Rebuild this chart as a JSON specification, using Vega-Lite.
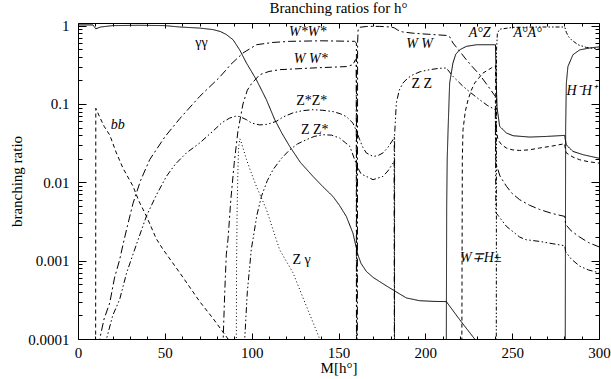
{
  "$schema": "https://vega.github.io/schema/vega-lite/v6.json",
  "width": 521,
  "height": 316,
  "autosize": {"type": "none"},
  "padding": {"left": 78, "top": 23, "right": 12, "bottom": 40},
  "background": "white",
  "config": {"view": {"stroke": null}, "font": "Liberation Serif", "axis": {"grid": false, "domainColor": "black", "tickColor": "black", "tickWidth": 1, "domainWidth": 1}},
  "title": {"text": "Branching ratios for h°", "font": "Liberation Serif", "fontSize": 15, "fontWeight": "normal", "color": "black", "offset": 3},
  "datasets": {
    "curves": [
      {"s":"gg","x":0,"y":1.02},{"s":"gg","x":8.6,"y":1.02},{"s":"gg","x":10.2,"y":0.91},{"s":"gg","x":13,"y":0.96},{"s":"gg","x":20,"y":1.0},{"s":"gg","x":35,"y":1.01},{"s":"gg","x":50,"y":1.0},{"s":"gg","x":58.6,"y":0.96},{"s":"gg","x":70,"y":0.93},{"s":"gg","x":77.7,"y":0.89},{"s":"gg","x":82,"y":0.84},{"s":"gg","x":85.4,"y":0.77},{"s":"gg","x":89.3,"y":0.66},{"s":"gg","x":93.1,"y":0.49},{"s":"gg","x":97,"y":0.333},{"s":"gg","x":102.7,"y":0.204},{"s":"gg","x":108.5,"y":0.113},{"s":"gg","x":113.3,"y":0.063},{"s":"gg","x":117.5,"y":0.042},{"s":"gg","x":121.9,"y":0.0287},{"s":"gg","x":128,"y":0.018},{"s":"gg","x":135.3,"y":0.0119},{"s":"gg","x":141,"y":0.0088},{"s":"gg","x":146.8,"y":0.0066},{"s":"gg","x":150.5,"y":0.0051},{"s":"gg","x":154.5,"y":0.00367},{"s":"gg","x":158.3,"y":0.00225},{"s":"gg","x":160.3,"y":0.00145},{"s":"gg","x":161.2,"y":0.00118},{"s":"gg","x":163,"y":0.00092},{"s":"gg","x":166,"y":0.00073},{"s":"gg","x":170,"y":0.00061},{"s":"gg","x":173.7,"y":0.00054},{"s":"gg","x":178,"y":0.00047},{"s":"gg","x":182.4,"y":0.00041},{"s":"gg","x":189.1,"y":0.000334},{"s":"gg","x":196.8,"y":0.000308},{"s":"gg","x":205,"y":0.000302},{"s":"gg","x":212.1,"y":0.0003},{"s":"gg","x":219.8,"y":0.000176},{"s":"gg","x":228.4,"y":0.0001},{"s":"gg","x":232,"y":0.00007},

      {"s":"bb","x":10.15,"y":0.00005},{"s":"bb","x":10.25,"y":0.088},{"s":"bb","x":12.5,"y":0.068},{"s":"bb","x":15,"y":0.052},{"s":"bb","x":18.3,"y":0.04},{"s":"bb","x":22.1,"y":0.0237},{"s":"bb","x":26,"y":0.015},{"s":"bb","x":31.7,"y":0.0089},{"s":"bb","x":35,"y":0.0058},{"s":"bb","x":39.4,"y":0.0037},{"s":"bb","x":45.1,"y":0.0019},{"s":"bb","x":48.9,"y":0.0014},{"s":"bb","x":58.6,"y":0.0007},{"s":"bb","x":70.1,"y":0.0003},{"s":"bb","x":78,"y":0.00018},{"s":"bb","x":86.4,"y":0.0001},{"s":"bb","x":90,"y":0.00008},

      {"s":"Zg","x":91.15,"y":0.00005},{"s":"Zg","x":91.3,"y":0.0008},{"s":"Zg","x":91.6,"y":0.004},{"s":"Zg","x":92.0,"y":0.012},{"s":"Zg","x":92.5,"y":0.028},{"s":"Zg","x":93.2,"y":0.036},{"s":"Zg","x":94.5,"y":0.03},{"s":"Zg","x":97,"y":0.0195},{"s":"Zg","x":100,"y":0.0128},{"s":"Zg","x":102.7,"y":0.0089},{"s":"Zg","x":108.5,"y":0.0045},{"s":"Zg","x":114.2,"y":0.00185},{"s":"Zg","x":116.1,"y":0.00138},{"s":"Zg","x":123.8,"y":0.0007},{"s":"Zg","x":131,"y":0.00028},{"s":"Zg","x":139.2,"y":0.0001},{"s":"Zg","x":142,"y":0.00007},

      {"s":"WsWs","x":12.0,"y":0.00005},{"s":"WsWs","x":12.5,"y":0.0001},{"s":"WsWs","x":15,"y":0.00018},{"s":"WsWs","x":18.3,"y":0.00029},{"s":"WsWs","x":21,"y":0.0006},{"s":"WsWs","x":24,"y":0.00103},{"s":"WsWs","x":25.9,"y":0.0016},{"s":"WsWs","x":28.5,"y":0.0028},{"s":"WsWs","x":31.7,"y":0.0054},{"s":"WsWs","x":36,"y":0.0105},{"s":"WsWs","x":41.3,"y":0.0195},{"s":"WsWs","x":50,"y":0.038},{"s":"WsWs","x":58.6,"y":0.065},{"s":"WsWs","x":70.1,"y":0.125},{"s":"WsWs","x":81.6,"y":0.22},{"s":"WsWs","x":88,"y":0.32},{"s":"WsWs","x":95,"y":0.447},{"s":"WsWs","x":102.7,"y":0.57},{"s":"WsWs","x":112.3,"y":0.61},{"s":"WsWs","x":121.9,"y":0.63},{"s":"WsWs","x":140,"y":0.64},{"s":"WsWs","x":159.3,"y":0.63},{"s":"WsWs","x":160.3,"y":0.6},{"s":"WsWs","x":160.5,"y":0.00005},

      {"s":"WWs","x":83.3,"y":0.00005},{"s":"WWs","x":83.6,"y":0.0001},{"s":"WWs","x":84.5,"y":0.0004},{"s":"WWs","x":85.4,"y":0.0012},{"s":"WWs","x":86.4,"y":0.0019},{"s":"WWs","x":88,"y":0.006},{"s":"WWs","x":90,"y":0.018},{"s":"WWs","x":92.1,"y":0.045},{"s":"WWs","x":95,"y":0.1},{"s":"WWs","x":97.5,"y":0.15},{"s":"WWs","x":99.8,"y":0.18},{"s":"WWs","x":104.6,"y":0.236},{"s":"WWs","x":110,"y":0.26},{"s":"WWs","x":116.1,"y":0.274},{"s":"WWs","x":135.3,"y":0.288},{"s":"WWs","x":154.5,"y":0.30},{"s":"WWs","x":158.3,"y":0.317},{"s":"WWs","x":159.7,"y":0.367},{"s":"WWs","x":160.2,"y":0.37},{"s":"WWs","x":160.35,"y":0.00005},

      {"s":"ZsZs","x":16.0,"y":0.00005},{"s":"ZsZs","x":16.4,"y":0.0001},{"s":"ZsZs","x":20,"y":0.0002},{"s":"ZsZs","x":24,"y":0.00032},{"s":"ZsZs","x":28,"y":0.0007},{"s":"ZsZs","x":33.6,"y":0.0016},{"s":"ZsZs","x":39.4,"y":0.0037},{"s":"ZsZs","x":45,"y":0.0068},{"s":"ZsZs","x":50.9,"y":0.0119},{"s":"ZsZs","x":56,"y":0.017},{"s":"ZsZs","x":62.4,"y":0.0237},{"s":"ZsZs","x":70.1,"y":0.0318},{"s":"ZsZs","x":77.7,"y":0.045},{"s":"ZsZs","x":83,"y":0.058},{"s":"ZsZs","x":87.3,"y":0.066},{"s":"ZsZs","x":91,"y":0.07},{"s":"ZsZs","x":93.1,"y":0.069},{"s":"ZsZs","x":97,"y":0.063},{"s":"ZsZs","x":100,"y":0.057},{"s":"ZsZs","x":104.6,"y":0.054},{"s":"ZsZs","x":109,"y":0.055},{"s":"ZsZs","x":114.2,"y":0.06},{"s":"ZsZs","x":118,"y":0.068},{"s":"ZsZs","x":123.8,"y":0.077},{"s":"ZsZs","x":129,"y":0.082},{"s":"ZsZs","x":135.3,"y":0.0845},{"s":"ZsZs","x":141,"y":0.083},{"s":"ZsZs","x":146.8,"y":0.08},{"s":"ZsZs","x":151,"y":0.075},{"s":"ZsZs","x":154.5,"y":0.069},{"s":"ZsZs","x":158.3,"y":0.057},{"s":"ZsZs","x":160,"y":0.047},{"s":"ZsZs","x":162.2,"y":0.035},{"s":"ZsZs","x":164,"y":0.028},{"s":"ZsZs","x":166,"y":0.0237},{"s":"ZsZs","x":169.9,"y":0.0214},{"s":"ZsZs","x":172.5,"y":0.0218},{"s":"ZsZs","x":175.6,"y":0.0237},{"s":"ZsZs","x":178.5,"y":0.028},{"s":"ZsZs","x":181.4,"y":0.035},{"s":"ZsZs","x":182.1,"y":0.038},{"s":"ZsZs","x":182.2,"y":0.00005},

      {"s":"ZZs","x":95.8,"y":0.00005},{"s":"ZZs","x":96,"y":0.0001},{"s":"ZZs","x":97.5,"y":0.0004},{"s":"ZZs","x":99.8,"y":0.0014},{"s":"ZZs","x":100.8,"y":0.0019},{"s":"ZZs","x":103,"y":0.0038},{"s":"ZZs","x":105.6,"y":0.0066},{"s":"ZZs","x":109,"y":0.0105},{"s":"ZZs","x":112.3,"y":0.0145},{"s":"ZZs","x":117,"y":0.02},{"s":"ZZs","x":121.9,"y":0.026},{"s":"ZZs","x":126.5,"y":0.031},{"s":"ZZs","x":131.5,"y":0.035},{"s":"ZZs","x":136,"y":0.0385},{"s":"ZZs","x":141.1,"y":0.0405},{"s":"ZZs","x":146,"y":0.04},{"s":"ZZs","x":150.7,"y":0.0367},{"s":"ZZs","x":154,"y":0.032},{"s":"ZZs","x":156.5,"y":0.0288},{"s":"ZZs","x":159.3,"y":0.0195},{"s":"ZZs","x":161,"y":0.0155},{"s":"ZZs","x":163,"y":0.0128},{"s":"ZZs","x":166,"y":0.0119},{"s":"ZZs","x":169.9,"y":0.0108},{"s":"ZZs","x":175.6,"y":0.0119},{"s":"ZZs","x":178.5,"y":0.014},{"s":"ZZs","x":181.4,"y":0.0176},{"s":"ZZs","x":182.1,"y":0.019},{"s":"ZZs","x":182.2,"y":0.00005},

      {"s":"ZZ","x":182.25,"y":0.00005},{"s":"ZZ","x":182.3,"y":0.04},{"s":"ZZ","x":183.3,"y":0.103},{"s":"ZZ","x":185,"y":0.15},{"s":"ZZ","x":187.1,"y":0.185},{"s":"ZZ","x":190,"y":0.215},{"s":"ZZ","x":192.9,"y":0.236},{"s":"ZZ","x":197,"y":0.258},{"s":"ZZ","x":202.5,"y":0.274},{"s":"ZZ","x":208,"y":0.285},{"s":"ZZ","x":212.1,"y":0.288},{"s":"ZZ","x":215.9,"y":0.225},{"s":"ZZ","x":221.7,"y":0.168},{"s":"ZZ","x":226,"y":0.14},{"s":"ZZ","x":231.3,"y":0.113},{"s":"ZZ","x":236,"y":0.095},{"s":"ZZ","x":240.3,"y":0.0845},{"s":"ZZ","x":240.6,"y":0.0041},{"s":"ZZ","x":241.8,"y":0.0038},{"s":"ZZ","x":246.7,"y":0.00274},{"s":"ZZ","x":254.3,"y":0.002},{"s":"ZZ","x":258,"y":0.00185},{"s":"ZZ","x":265.8,"y":0.00176},{"s":"ZZ","x":273,"y":0.00165},{"s":"ZZ","x":280.3,"y":0.00155},{"s":"ZZ","x":280.8,"y":0.0013},{"s":"ZZ","x":284,"y":0.00105},{"s":"ZZ","x":288.9,"y":0.00085},{"s":"ZZ","x":294,"y":0.00076},{"s":"ZZ","x":300,"y":0.0007},

      {"s":"WW","x":160.85,"y":0.00005},{"s":"WW","x":161.0,"y":0.6},{"s":"WW","x":161.3,"y":0.88},{"s":"WW","x":162,"y":0.95},{"s":"WW","x":166,"y":0.975},{"s":"WW","x":170,"y":0.98},{"s":"WW","x":173.7,"y":0.977},{"s":"WW","x":180,"y":0.96},{"s":"WW","x":182,"y":0.94},{"s":"WW","x":184,"y":0.88},{"s":"WW","x":187,"y":0.83},{"s":"WW","x":193,"y":0.8},{"s":"WW","x":202,"y":0.775},{"s":"WW","x":212,"y":0.75},{"s":"WW","x":214,"y":0.72},{"s":"WW","x":215.9,"y":0.6},{"s":"WW","x":219.8,"y":0.47},{"s":"WW","x":223.6,"y":0.367},{"s":"WW","x":227,"y":0.3},{"s":"WW","x":231.3,"y":0.236},{"s":"WW","x":236,"y":0.17},{"s":"WW","x":240.3,"y":0.125},{"s":"WW","x":240.6,"y":0.0176},{"s":"WW","x":243,"y":0.012},{"s":"WW","x":246.7,"y":0.0089},{"s":"WW","x":250,"y":0.0072},{"s":"WW","x":254.3,"y":0.006},{"s":"WW","x":260,"y":0.0051},{"s":"WW","x":265.8,"y":0.0045},{"s":"WW","x":273,"y":0.004},{"s":"WW","x":280.3,"y":0.00367},{"s":"WW","x":280.8,"y":0.0029},{"s":"WW","x":284,"y":0.0024},{"s":"WW","x":288.9,"y":0.002},{"s":"WW","x":294,"y":0.0017},{"s":"WW","x":300,"y":0.0015},

      {"s":"AZ","x":212.05,"y":0.00005},{"s":"AZ","x":212.3,"y":0.005},{"s":"AZ","x":212.6,"y":0.02},{"s":"AZ","x":213.1,"y":0.047},{"s":"AZ","x":214,"y":0.185},{"s":"AZ","x":215.9,"y":0.333},{"s":"AZ","x":217.5,"y":0.43},{"s":"AZ","x":219.8,"y":0.492},{"s":"AZ","x":223.6,"y":0.543},{"s":"AZ","x":229.4,"y":0.57},{"s":"AZ","x":240.4,"y":0.57},{"s":"AZ","x":240.8,"y":0.2},{"s":"AZ","x":241.3,"y":0.09},{"s":"AZ","x":242.8,"y":0.0517},{"s":"AZ","x":246.7,"y":0.0426},{"s":"AZ","x":250.5,"y":0.0393},{"s":"AZ","x":260.1,"y":0.0378},{"s":"AZ","x":269.7,"y":0.0385},{"s":"AZ","x":280.2,"y":0.0397},{"s":"AZ","x":280.6,"y":0.035},{"s":"AZ","x":281.2,"y":0.03},{"s":"AZ","x":285,"y":0.0248},{"s":"AZ","x":290.8,"y":0.0225},{"s":"AZ","x":300,"y":0.0203},

      {"s":"HH","x":280.55,"y":0.00005},{"s":"HH","x":280.8,"y":0.05},{"s":"HH","x":281.2,"y":0.185},{"s":"HH","x":282.1,"y":0.3},{"s":"HH","x":285,"y":0.425},{"s":"HH","x":288.9,"y":0.49},{"s":"HH","x":294.6,"y":0.518},{"s":"HH","x":300,"y":0.535},

      {"s":"AA","x":240.85,"y":0.00005},{"s":"AA","x":241.0,"y":0.5},{"s":"AA","x":241.5,"y":0.8},{"s":"AA","x":242.8,"y":0.9},{"s":"AA","x":250.5,"y":0.95},{"s":"AA","x":265,"y":0.96},{"s":"AA","x":279.8,"y":0.96},{"s":"AA","x":280.4,"y":0.94},{"s":"AA","x":281.2,"y":0.82},{"s":"AA","x":282.5,"y":0.72},{"s":"AA","x":284.1,"y":0.66},{"s":"AA","x":287.9,"y":0.57},{"s":"AA","x":292.7,"y":0.527},{"s":"AA","x":300,"y":0.5},

      {"s":"WH","x":221.0,"y":0.00005},{"s":"WH","x":221.3,"y":0.02},{"s":"WH","x":221.7,"y":0.047},{"s":"WH","x":223,"y":0.08},{"s":"WH","x":224.6,"y":0.113},{"s":"WH","x":226.5,"y":0.15},{"s":"WH","x":228.4,"y":0.185},{"s":"WH","x":233.2,"y":0.248},{"s":"WH","x":238,"y":0.288},{"s":"WH","x":240.4,"y":0.308},{"s":"WH","x":240.7,"y":0.05},{"s":"WH","x":241.8,"y":0.035},{"s":"WH","x":244,"y":0.03},{"s":"WH","x":246.7,"y":0.0274},{"s":"WH","x":250,"y":0.026},{"s":"WH","x":254.3,"y":0.0255},{"s":"WH","x":260,"y":0.026},{"s":"WH","x":265.8,"y":0.0274},{"s":"WH","x":273,"y":0.029},{"s":"WH","x":280.2,"y":0.0311},{"s":"WH","x":280.6,"y":0.027},{"s":"WH","x":281.2,"y":0.0237},{"s":"WH","x":285,"y":0.021},{"s":"WH","x":288.9,"y":0.0194},{"s":"WH","x":294,"y":0.0183},{"s":"WH","x":300,"y":0.0176}
    ],
    "labels": [
      {"t":"γγ","x":71.1,"y":0.6,"it":false},
      {"t":"W*W*","x":132.3,"y":0.836,"it":true},
      {"t":"W W*","x":134,"y":0.378,"it":true},
      {"t":"Z*Z*","x":134.6,"y":0.11,"it":false},
      {"t":"Z Z*","x":136.3,"y":0.047,"it":false},
      {"t":"W W","x":196.7,"y":0.587,"it":true},
      {"t":"Z Z","x":197.9,"y":0.181,"it":false},
      {"t":"A°Z","x":231.3,"y":0.812,"it":true},
      {"t":"A°A°","x":258.9,"y":0.812,"it":true},
      {"t":"H⁻H⁺","x":290,"y":0.148,"it":true},
      {"t":"bb","x":22.9,"y":0.0543,"it":true},
      {"t":"Z γ","x":128.8,"y":0.00103,"it":false},
      {"t":"W∓H±","x":231.9,"y":0.00109,"it":true}
    ],
    "anchor": [{"x": 150, "y": 0.01}]
  },
  "layer": [
    {
      "data": {"name": "curves"},
      "mark": {"type": "line", "color": "black", "strokeWidth": 1, "clip": true},
      "encoding": {
        "x": {"field": "x", "type": "quantitative", "scale": {"domain": [0, 300], "nice": false, "zero": false},
          "axis": {"orient": "bottom", "values": [0,50,100,150,200,250,300], "format": "d", "ticks": false, "domain": true,
            "labelPadding": 6, "labelFlush": false, "labelOverlap": false, "labelBound": false,
            "labelFont": "Liberation Serif", "labelFontSize": 15, "labelColor": "black",
            "title": "M[h°]", "titleFont": "Liberation Serif", "titleFontSize": 15, "titleFontWeight": "normal", "titleColor": "black", "titlePadding": 0}},
        "y": {"field": "y", "type": "quantitative", "scale": {"type": "log", "domain": [0.0001, 1.08], "nice": false},
          "axis": {"orient": "left", "values": [0.0001,0.001,0.01,0.1,1], "format": "~g", "ticks": false, "domain": true,
            "labelPadding": 9, "labelFlush": false, "labelOverlap": false, "labelBound": false,
            "labelFont": "Liberation Serif", "labelFontSize": 15, "labelColor": "black",
            "title": "branching ratio", "titleFont": "Liberation Serif", "titleFontSize": 15, "titleFontWeight": "normal", "titleColor": "black", "titlePadding": 3}},
        "strokeDash": {"field": "s", "type": "nominal", "legend": null,
          "scale": {"domain": ["gg","bb","Zg","WsWs","WWs","WW","ZsZs","ZZs","ZZ","AZ","AA","HH","WH"],
            "range": [[1,0],[4,3],[1,2.5],[8,3,2,3],[7,3,2,3],[8,3,2,3],[6,2.5,1.5,2.5,1.5,2.5],[6,2.5,1.5,2.5,1.5,2.5],[6,2.5,1.5,2.5,1.5,2.5],[1,0],[4,2,1.5,2,1.5,2],[1,0],[4,3]]}}
      }
    },
    {
      "data": {"name": "labels"},
      "transform": [{"filter": "!datum.it"}],
      "mark": {"type": "text", "font": "Liberation Serif", "fontSize": 14, "color": "black", "align": "center", "baseline": "middle"},
      "encoding": {
        "x": {"field": "x", "type": "quantitative", "scale": {"domain": [0, 300], "nice": false, "zero": false},
          "axis": {"orient": "top", "offset": -316, "values": [0,50,100,150,200,250,300], "labels": false, "domain": false, "title": null, "tickSize": 6}},
        "y": {"field": "y", "type": "quantitative", "scale": {"type": "log", "domain": [0.0001, 1.08], "nice": false},
          "axis": {"orient": "right", "offset": -521, "values": [0.0001,0.001,0.01,0.1,1], "labels": false, "domain": false, "title": null, "tickSize": 8}},
        "text": {"field": "t", "type": "nominal"}
      }
    },
    {
      "data": {"name": "labels"},
      "transform": [{"filter": "datum.it"}],
      "mark": {"type": "text", "font": "Liberation Serif", "fontSize": 14, "fontStyle": "italic", "color": "black", "align": "center", "baseline": "middle"},
      "encoding": {
        "x": {"field": "x", "type": "quantitative", "scale": {"domain": [0, 300], "nice": false, "zero": false},
          "axis": {"orient": "top", "offset": -316, "values": [10,20,30,40,60,70,80,90,110,120,130,140,160,170,180,190,210,220,230,240,260,270,280,290], "labels": false, "domain": false, "title": null, "tickSize": 3}},
        "y": {"field": "y", "type": "quantitative", "scale": {"type": "log", "domain": [0.0001, 1.08], "nice": false},
          "axis": {"orient": "right", "offset": -521, "values": [0.0002,0.0003,0.0004,0.0005,0.0006,0.0007,0.0008,0.0009,0.002,0.003,0.004,0.005,0.006,0.007,0.008,0.009,0.02,0.03,0.04,0.05,0.06,0.07,0.08,0.09,0.2,0.3,0.4,0.5,0.6,0.7,0.8,0.9], "labels": false, "domain": false, "title": null, "tickSize": 4}},
        "text": {"field": "t", "type": "nominal"}
      }
    },
    {
      "data": {"name": "anchor"},
      "mark": {"type": "point", "opacity": 0},
      "encoding": {
        "x": {"field": "x", "type": "quantitative", "scale": {"domain": [0, 300], "nice": false, "zero": false},
          "axis": {"orient": "bottom", "offset": -316, "values": [0,50,100,150,200,250,300], "labels": false, "domain": true, "title": null, "tickSize": 5}},
        "y": {"field": "y", "type": "quantitative", "scale": {"type": "log", "domain": [0.0001, 1.08], "nice": false},
          "axis": {"orient": "left", "offset": -521, "values": [0.0001,0.001,0.01,0.1,1], "labels": false, "domain": true, "title": null, "tickSize": 8}}
      }
    },
    {
      "data": {"name": "anchor"},
      "mark": {"type": "point", "opacity": 0},
      "encoding": {
        "x": {"field": "x", "type": "quantitative", "scale": {"domain": [0, 300], "nice": false, "zero": false},
          "axis": {"orient": "bottom", "offset": -316, "values": [10,20,30,40,60,70,80,90,110,120,130,140,160,170,180,190,210,220,230,240,260,270,280,290], "labels": false, "domain": false, "title": null, "tickSize": 3}},
        "y": {"field": "y", "type": "quantitative", "scale": {"type": "log", "domain": [0.0001, 1.08], "nice": false},
          "axis": {"orient": "left", "offset": -521, "values": [0.0002,0.0003,0.0004,0.0005,0.0006,0.0007,0.0008,0.0009,0.002,0.003,0.004,0.005,0.006,0.007,0.008,0.009,0.02,0.03,0.04,0.05,0.06,0.07,0.08,0.09,0.2,0.3,0.4,0.5,0.6,0.7,0.8,0.9], "labels": false, "domain": false, "title": null, "tickSize": 4}}
      }
    }
  ],
  "resolve": {"axis": {"x": "independent", "y": "independent"}}
}
